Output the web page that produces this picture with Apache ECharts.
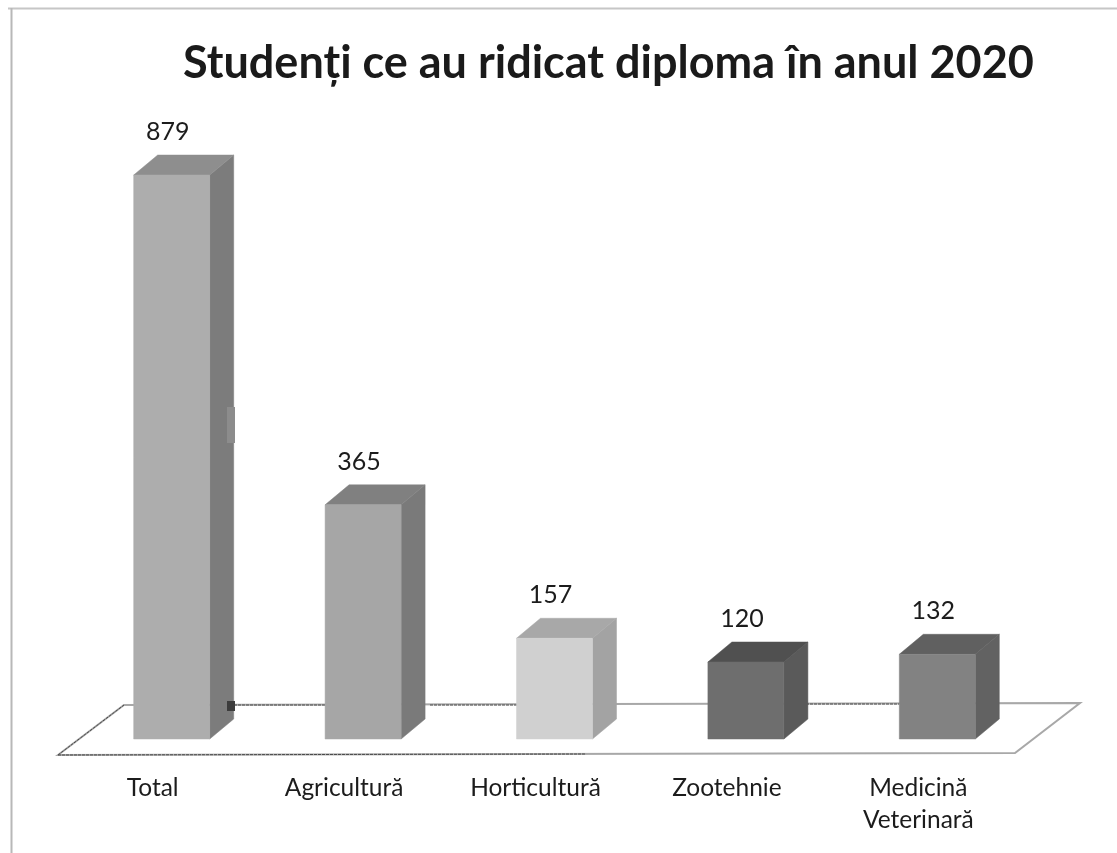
<!DOCTYPE html>
<html><head><meta charset="utf-8">
<style>html,body{margin:0;padding:0;background:#fff}#c{width:1117px;height:853px}</style>
<script src="https://cdn.jsdelivr.net/npm/echarts@6/dist/echarts.min.js"></script></head>
<body><div id="c"></div>
<script>
const categories = ['Total', 'Agricultură', 'Horticultură', 'Zootehnie', 'Medicină\nVeterinară'];
const values = [879, 365, 157, 120, 132];
const titleText = 'Studenți ce au ridicat diploma în anul 2020';
const frontColors = ['#adadad', '#a6a6a6', '#d0d0d0', '#6e6e6e', '#828282'];
const sideColors = ['#7c7c7c', '#7a7a7a', '#a3a3a3', '#5a5a5a', '#626262'];
const topColors = ['#8e8e8e', '#808080', '#a8a8a8', '#505050', '#606060'];

const FONT = 'Lato';
const DX = 24, DY = -20, BAR = 76;
const chart = echarts.init(document.getElementById('c'), null, {renderer: 'canvas'});

function poly(points, fill, z2) {
  return {type: 'polygon', z2: z2 || 0, shape: {points}, style: {fill, stroke: fill, lineWidth: 0.5}};
}

function renderBar(params, api) {
  const i = api.value(0), v = api.value(1);
  const t = api.coord([i, v]), b = api.coord([i, 0]);
  const l = t[0] - BAR / 2, r = t[0] + BAR / 2, top = t[1], bot = b[1];
  return {type: 'group', children: [
    poly([[r, top], [r + DX, top + DY], [r + DX, bot + DY], [r, bot]], sideColors[i]),
    poly([[l, top], [r, top], [r + DX, top + DY], [l + DX, top + DY]], topColors[i]),
    poly([[l, top], [r, top], [r, bot], [l, bot]], frontColors[i], 1),
    {type: 'text', z2: 2, style: {text: String(v), x: t[0] - 4, y: top - 43, align: 'center', verticalAlign: 'middle',
      font: '25px ' + FONT, fill: '#1c1c1c'}}
  ]};
}

function roughLine(x1, y1, x2, y2) {
  return {type: 'line', z2: 1, shape: {x1, y1, x2, y2}, style: {stroke: '#4a4a4a', lineWidth: 1, lineDash: [3, 1]}};
}

function renderFloor(params, api) {
  const c = params.coordSys, base = c.y + c.height, x0 = c.x, x1 = c.x + c.width;
  const fl = [x0 - 18, base + 16], bl = [x0 + 48, base - 34], br = [x1 + 47, base - 36], fr = [x1 - 18, base + 14];
  return {type: 'group', children: [
    {type: 'polygon', shape: {points: [fl, bl, br, fr]}, style: {fill: '#fff', stroke: '#a8a8a8', lineWidth: 2}},
    roughLine(fl[0], fl[1], bl[0], bl[1]),
    roughLine(x0 + 158, base - 34, x0 + 250, base - 34),
    roughLine(x0 + 354, base - 34, x0 + 442, base - 34),
    roughLine(x0 + 710, base - 35, x0 + 823, base - 35),
    roughLine(x0 - 18, base + 16, x0 + 510, base + 15)
  ]};
}

chart.setOption({
  animation: false,
  backgroundColor: '#fff',
  title: {text: titleText, left: 178, top: 36, textStyle: {fontFamily: FONT, fontWeight: 'bold', fontSize: 45, color: '#1a1a1a'}},
  grid: {left: 76, top: 97.4, width: 957, height: 641.6},
  xAxis: {type: 'category', data: categories,
    axisLine: {show: false}, axisTick: {show: false},
    axisLabel: {interval: 0, margin: 33, fontFamily: FONT, fontSize: 24.5, color: '#1c1c1c', lineHeight: 32, padding: [0, 38, 0, 0]}},
  yAxis: {type: 'value', min: 0, max: 1000, show: false, splitLine: {show: false}},
  series: [
    {type: 'custom', coordinateSystem: 'cartesian2d', data: [[0, 0]], renderItem: renderFloor, silent: true, z: 1},
    {type: 'custom', coordinateSystem: 'cartesian2d', encode: {x: 0, y: 1},
     data: values.map((v, i) => [i, v]), renderItem: renderBar, z: 2}
  ],
  graphic: [
    {type: 'line', silent: true, shape: {x1: 8, y1: 8.5, x2: 1117, y2: 8.5}, style: {stroke: '#c6c6c6', lineWidth: 2}},
    {type: 'line', silent: true, shape: {x1: 11.5, y1: 8, x2: 11.5, y2: 853}, style: {stroke: '#b8b8b8', lineWidth: 2}},
    {type: 'rect', silent: true, z: 10, shape: {x: 227, y: 407, width: 8, height: 36}, style: {fill: '#8c8c8c'}},
    {type: 'rect', silent: true, z: 10, shape: {x: 227, y: 701, width: 8, height: 10}, style: {fill: '#3c3c3c'}}
  ]
});
</script></body></html>
